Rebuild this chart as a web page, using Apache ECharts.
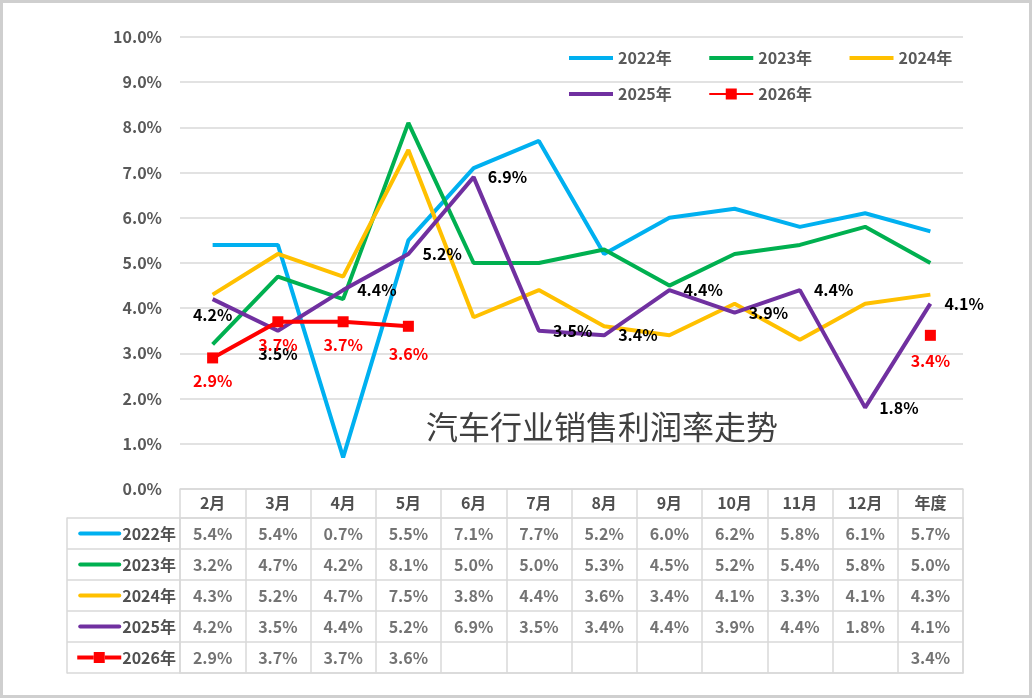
<!DOCTYPE html>
<html>
<head>
<meta charset="utf-8">
<script src="https://cdn.jsdelivr.net/npm/echarts@6/dist/echarts.min.js"></script>
<style>
  html, body { margin: 0; padding: 0; background: #fff; }
  #chart { width: 1033px; height: 699px; }
</style>
</head>
<body>
<div id="chart"></div>
<script>
// 汽车行业销售利润率走势 - 折线 + 数据表

const months = ['2月', '3月', '4月', '5月', '6月', '7月', '8月', '9月', '10月', '11月', '12月', '年度'];
const years = ['2022年', '2023年', '2024年', '2025年', '2026年'];
const yAxisTicks = [0, 1, 2, 3, 4, 5, 6, 7, 8, 9, 10];

const rate2022 = [5.4, 5.4, 0.7, 5.5, 7.1, 7.7, 5.2, 6.0, 6.2, 5.8, 6.1, 5.7];
const rate2023 = [3.2, 4.7, 4.2, 8.1, 5.0, 5.0, 5.3, 4.5, 5.2, 5.4, 5.8, 5.0];
const rate2024 = [4.3, 5.2, 4.7, 7.5, 3.8, 4.4, 3.6, 3.4, 4.1, 3.3, 4.1, 4.3];
const rate2025 = [4.2, 3.5, 4.4, 5.2, 6.9, 3.5, 3.4, 4.4, 3.9, 4.4, 1.8, 4.1];
const rate2026 = [2.9, 3.7, 3.7, 3.6, null, null, null, null, null, null, null, 3.4];

const colors = ['#00b0f0', '#00b050', '#ffc000', '#7030a0', '#ff0000'];
const allRates = [rate2022, rate2023, rate2024, rate2025, rate2026];

const FONT = 'Noto Sans CJK SC';
const GRID_LINE = '#d9d9d9';
const TEXT = '#505050';
const fmt = (v) => v.toFixed(1) + '%';

const chart = echarts.init(document.getElementById('chart'));

// 图例图标：线条，2026 年带方块
const lineIcon = 'path://M0,0 L44,0 L44,4 L0,4 Z';
const markIcon = 'path://M0,4.5 L16.5,4.5 L16.5,0 L27.5,0 L27.5,11 L16.5,11 L16.5,6.5 L0,6.5 Z M27.5,4.5 L44,4.5 L44,6.5 L27.5,6.5 Z';

// 2025 年标签位置
const labelPos2025 = rate2025.map((v, i) => (i < 2 ? 'bottom' : 'right'));
const labelDist2025 = rate2025.map((v, i) => (i === 0 ? 8 : i === 1 ? 15 : 14));
const labelDist2026 = rate2026.map((v, i) => (i === 3 ? 14 : i === 11 ? 12 : 10));

// 表格单元
const tableCells = [];
allRates.forEach((arr, r) => {
    arr.forEach((v, c) => {
        if (v !== null) {
            tableCells.push([c, r, v]);
        }
    });
});

// 表头行图标（rich text）
const rowRich = {
    t: { fontFamily: FONT, fontSize: 16, fontWeight: 'bold', color: TEXT, verticalAlign: 'middle', padding: [0, 0, 0, 1] },
    sq: { width: 11, height: 11, backgroundColor: colors[4], verticalAlign: 'middle' },
    s4: { width: 16.5, height: 4, backgroundColor: colors[4], verticalAlign: 'middle' }
};
colors.forEach((c, i) => {
    rowRich['l' + i] = { width: 43, height: 4, borderRadius: 2, backgroundColor: c, verticalAlign: 'middle' };
});

const lineSeries = [0, 1, 2, 3].map((i) => ({
    name: years[i],
    type: 'line',
    xAxisIndex: 0,
    yAxisIndex: 0,
    symbol: 'circle',
    symbolSize: 0,
    showSymbol: i === 3,
    lineStyle: { width: 4, color: colors[i] },
    itemStyle: { color: colors[i] },
    label: { show: false },
    z: 2 + i,
    data: i === 3
        ? rate2025.map((v, k) => ({
            value: v,
            label: {
                show: true,
                position: labelPos2025[k],
                distance: labelDist2025[k],
                formatter: (p) => fmt(p.value),
                color: '#000',
                fontWeight: 'bold',
                fontSize: 16,
                fontFamily: FONT
            }
        }))
        : allRates[i]
}));

lineSeries.push({
    name: years[4],
    type: 'line',
    xAxisIndex: 0,
    yAxisIndex: 0,
    symbol: 'rect',
    symbolSize: 11,
    connectNulls: false,
    lineStyle: { width: 4, color: colors[4] },
    itemStyle: { color: colors[4] },
    z: 10,
    data: rate2026.map((v, k) => ({
        value: v,
        label: {
            show: v !== null,
            position: 'bottom',
            distance: labelDist2026[k],
            formatter: (p) => fmt(p.value),
            color: '#ff0000',
            fontWeight: 'bold',
            fontSize: 16,
            fontFamily: FONT
        }
    }))
});

const legendText = { fontFamily: FONT, fontSize: 16, color: '#595959', fontWeight: 'bold' };

const option = {
    animation: false,
    backgroundColor: '#fff',
    textStyle: { fontFamily: FONT },
    title: {
        text: '汽车行业销售利润率走势',
        left: 426,
        top: 411,
        padding: 0,
        textStyle: { fontFamily: FONT, fontSize: 32, fontWeight: 'normal', color: '#404040' }
    },
    legend: [
        {
            left: 569,
            top: 50,
            padding: 0,
            itemWidth: 44,
            itemHeight: 11,
            itemGap: 37.5,
            textStyle: legendText,
            data: [
                { name: years[0], icon: lineIcon },
                { name: years[1], icon: lineIcon },
                { name: years[2], icon: lineIcon }
            ]
        },
        {
            left: 569,
            top: 86,
            padding: 0,
            itemWidth: 44,
            itemHeight: 11,
            itemGap: 37.5,
            textStyle: legendText,
            data: [
                { name: years[3], icon: lineIcon },
                { name: years[4], icon: markIcon }
            ]
        }
    ],
    grid: [
        { left: 180, right: 70, top: 37, bottom: 210, containLabel: false, outerBoundsMode: 'none' },
        { left: 180, right: 70, top: 518, bottom: 26, containLabel: false, outerBoundsMode: 'none' }
    ],
    xAxis: [
        {
            gridIndex: 0,
            type: 'category',
            data: months,
            boundaryGap: true,
            axisLine: { show: true, lineStyle: { color: GRID_LINE, width: 1.5 } },
            axisTick: { show: true, length: 29, interval: 0, lineStyle: { color: GRID_LINE, width: 1.5 } },
            axisLabel: { interval: 0, margin: 6, fontSize: 16, fontWeight: 'bold', color: TEXT, fontFamily: FONT },
            splitLine: { show: false }
        },
        {
            gridIndex: 1,
            type: 'category',
            data: months,
            position: 'bottom',
            boundaryGap: true,
            axisLine: { show: true, lineStyle: { color: GRID_LINE, width: 1.5 } },
            axisTick: { show: false },
            axisLabel: { show: false },
            splitLine: { show: true, interval: 0, lineStyle: { color: GRID_LINE, width: 1.5 } }
        },
        {
            gridIndex: 1,
            type: 'category',
            data: months,
            position: 'top',
            boundaryGap: true,
            axisLine: { show: true, lineStyle: { color: GRID_LINE, width: 1.5 } },
            axisTick: { show: false },
            axisLabel: { show: false },
            splitLine: { show: false }
        }
    ],
    yAxis: [
        {
            gridIndex: 0,
            type: 'value',
            min: yAxisTicks[0],
            max: yAxisTicks[yAxisTicks.length - 1],
            interval: 1,
            axisLine: { show: false },
            axisTick: { show: false },
            axisLabel: { margin: 18, fontSize: 16, fontWeight: 'bold', color: '#595959', fontFamily: FONT, formatter: (v) => fmt(v) },
            splitLine: { show: true, lineStyle: { color: GRID_LINE, width: 1.5 } }
        },
        {
            gridIndex: 1,
            type: 'category',
            data: years,
            inverse: true,
            position: 'left',
            boundaryGap: true,
            axisLine: { show: true, lineStyle: { color: GRID_LINE, width: 1.5 } },
            axisTick: { show: true, length: 113, interval: 0, lineStyle: { color: GRID_LINE, width: 1.5 } },
            axisLabel: {
                interval: 0,
                margin: 4,
                formatter: (name, idx) => (idx === 4 ? '{s4|}{sq|}{s4|}' : '{l' + idx + '|}') + '{t|' + name + '}',
                rich: rowRich
            },
            splitLine: { show: true, interval: 0, lineStyle: { color: GRID_LINE, width: 1.5 } }
        },
        {
            gridIndex: 1,
            type: 'category',
            data: years,
            inverse: true,
            position: 'left',
            offset: 113,
            axisLine: { show: true, lineStyle: { color: GRID_LINE, width: 1.5 } },
            axisTick: { show: false },
            axisLabel: { show: false },
            splitLine: { show: false }
        },
        {
            gridIndex: 1,
            type: 'category',
            data: years,
            inverse: true,
            position: 'right',
            axisLine: { show: true, lineStyle: { color: GRID_LINE, width: 1.5 } },
            axisTick: { show: false },
            axisLabel: { show: false },
            splitLine: { show: false }
        }
    ],
    series: lineSeries.concat([
        {
            name: 'table',
            type: 'scatter',
            xAxisIndex: 1,
            yAxisIndex: 1,
            symbolSize: 0,
            silent: true,
            label: {
                show: true,
                position: 'inside',
                fontSize: 16,
                fontWeight: 'bold',
                color: TEXT,
                fontFamily: FONT,
                formatter: (p) => fmt(p.value[2])
            },
            data: tableCells
        }
    ]),
    graphic: [
        {
            type: 'rect',
            shape: { x: 1.5, y: 1.5, width: 1029, height: 695 },
            style: { fill: null, stroke: '#cfcfcf', lineWidth: 3 },
            silent: true
        }
    ]
};

chart.setOption(option);
</script>
</body>
</html>
